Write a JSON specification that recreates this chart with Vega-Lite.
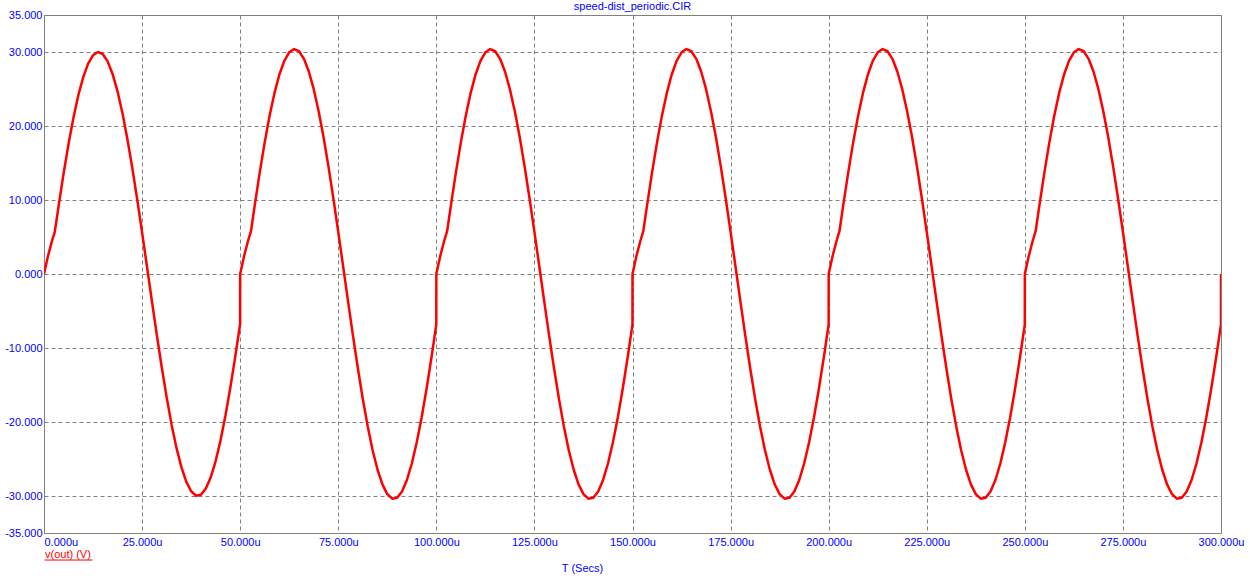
{
  "$schema": "https://vega.github.io/schema/vega-lite/v6.json",
  "width": 1177,
  "height": 518,
  "autosize": {"type": "none"},
  "padding": {"left": 44, "top": 15, "right": 29, "bottom": 47},
  "background": "white",
  "title": {"text": "speed-dist_periodic.CIR", "font": "Liberation Sans", "fontSize": 11, "fontWeight": "normal", "color": "#0000ff", "anchor": "middle", "offset": 3, "baseline": "bottom", "frame": "group", "dy": 17},
  "config": {"view": {"stroke": "#808080", "strokeWidth": 1}},
  "data": {"values": [
    {"t":0,"v":0},{"t":1,"v":2.4},{"t":2,"v":4.4},{"t":2.75,"v":5.7},{"t":3.75,"v":9.29},{"t":5,"v":13.59},{"t":6.25,"v":17.56},{"t":7.5,"v":21.11},{"t":8.75,"v":24.15},{"t":10,"v":26.61},{"t":11.25,"v":28.43},{"t":12.5,"v":29.57},{"t":13.75,"v":30.0},{"t":15,"v":29.7},{"t":16.25,"v":28.7},{"t":17.5,"v":27.0},{"t":18.75,"v":24.65},{"t":20,"v":21.71},{"t":21.25,"v":18.25},{"t":22.5,"v":14.35},{"t":23.75,"v":10.11},{"t":25,"v":5.62},{"t":26.25,"v":1.0},{"t":27.5,"v":-3.65},{"t":28.75,"v":-8.21},{"t":30,"v":-12.57},{"t":31.25,"v":-16.63},{"t":32.5,"v":-20.29},{"t":33.75,"v":-23.47},{"t":35,"v":-26.07},{"t":36.25,"v":-28.05},{"t":37.5,"v":-29.36},{"t":38.75,"v":-29.96},{"t":40,"v":-29.84},{"t":41.25,"v":-29.0},{"t":42.5,"v":-27.47},{"t":43.75,"v":-25.28},{"t":45,"v":-22.48},{"t":46.25,"v":-19.13},{"t":47.5,"v":-15.33},{"t":48.75,"v":-11.16},{"t":49.99,"v":-6.76},
    {"t":50,"v":0},{"t":51,"v":2.43},{"t":52,"v":4.46},{"t":52.75,"v":5.78},{"t":53.75,"v":9.41},{"t":55,"v":13.77},{"t":56.25,"v":17.79},{"t":57.5,"v":21.39},{"t":58.75,"v":24.47},{"t":60,"v":26.96},{"t":61.25,"v":28.81},{"t":62.5,"v":29.96},{"t":63.75,"v":30.4},{"t":65,"v":30.1},{"t":66.25,"v":29.08},{"t":67.5,"v":27.36},{"t":68.75,"v":24.98},{"t":70,"v":22.0},{"t":71.25,"v":18.5},{"t":72.5,"v":14.54},{"t":73.75,"v":10.24},{"t":75,"v":5.69},{"t":76.25,"v":1.01},{"t":77.5,"v":-3.7},{"t":78.75,"v":-8.32},{"t":80,"v":-12.74},{"t":81.25,"v":-16.85},{"t":82.5,"v":-20.56},{"t":83.75,"v":-23.78},{"t":85,"v":-26.42},{"t":86.25,"v":-28.43},{"t":87.5,"v":-29.75},{"t":88.75,"v":-30.36},{"t":90,"v":-30.24},{"t":91.25,"v":-29.39},{"t":92.5,"v":-27.84},{"t":93.75,"v":-25.61},{"t":95,"v":-22.78},{"t":96.25,"v":-19.39},{"t":97.5,"v":-15.53},{"t":98.75,"v":-11.31},{"t":99.99,"v":-6.85},
    {"t":100,"v":0},{"t":101,"v":2.43},{"t":102,"v":4.46},{"t":102.75,"v":5.78},{"t":103.75,"v":9.41},{"t":105,"v":13.77},{"t":106.25,"v":17.79},{"t":107.5,"v":21.39},{"t":108.75,"v":24.47},{"t":110,"v":26.96},{"t":111.25,"v":28.81},{"t":112.5,"v":29.96},{"t":113.75,"v":30.4},{"t":115,"v":30.1},{"t":116.25,"v":29.08},{"t":117.5,"v":27.36},{"t":118.75,"v":24.98},{"t":120,"v":22.0},{"t":121.25,"v":18.5},{"t":122.5,"v":14.54},{"t":123.75,"v":10.24},{"t":125,"v":5.69},{"t":126.25,"v":1.01},{"t":127.5,"v":-3.7},{"t":128.75,"v":-8.32},{"t":130,"v":-12.74},{"t":131.25,"v":-16.85},{"t":132.5,"v":-20.56},{"t":133.75,"v":-23.78},{"t":135,"v":-26.42},{"t":136.25,"v":-28.43},{"t":137.5,"v":-29.75},{"t":138.75,"v":-30.36},{"t":140,"v":-30.24},{"t":141.25,"v":-29.39},{"t":142.5,"v":-27.84},{"t":143.75,"v":-25.61},{"t":145,"v":-22.78},{"t":146.25,"v":-19.39},{"t":147.5,"v":-15.53},{"t":148.75,"v":-11.31},{"t":149.99,"v":-6.85},
    {"t":150,"v":0},{"t":151,"v":2.43},{"t":152,"v":4.46},{"t":152.75,"v":5.78},{"t":153.75,"v":9.41},{"t":155,"v":13.77},{"t":156.25,"v":17.79},{"t":157.5,"v":21.39},{"t":158.75,"v":24.47},{"t":160,"v":26.96},{"t":161.25,"v":28.81},{"t":162.5,"v":29.96},{"t":163.75,"v":30.4},{"t":165,"v":30.1},{"t":166.25,"v":29.08},{"t":167.5,"v":27.36},{"t":168.75,"v":24.98},{"t":170,"v":22.0},{"t":171.25,"v":18.5},{"t":172.5,"v":14.54},{"t":173.75,"v":10.24},{"t":175,"v":5.69},{"t":176.25,"v":1.01},{"t":177.5,"v":-3.7},{"t":178.75,"v":-8.32},{"t":180,"v":-12.74},{"t":181.25,"v":-16.85},{"t":182.5,"v":-20.56},{"t":183.75,"v":-23.78},{"t":185,"v":-26.42},{"t":186.25,"v":-28.43},{"t":187.5,"v":-29.75},{"t":188.75,"v":-30.36},{"t":190,"v":-30.24},{"t":191.25,"v":-29.39},{"t":192.5,"v":-27.84},{"t":193.75,"v":-25.61},{"t":195,"v":-22.78},{"t":196.25,"v":-19.39},{"t":197.5,"v":-15.53},{"t":198.75,"v":-11.31},{"t":199.99,"v":-6.85},
    {"t":200,"v":0},{"t":201,"v":2.43},{"t":202,"v":4.46},{"t":202.75,"v":5.78},{"t":203.75,"v":9.41},{"t":205,"v":13.77},{"t":206.25,"v":17.79},{"t":207.5,"v":21.39},{"t":208.75,"v":24.47},{"t":210,"v":26.96},{"t":211.25,"v":28.81},{"t":212.5,"v":29.96},{"t":213.75,"v":30.4},{"t":215,"v":30.1},{"t":216.25,"v":29.08},{"t":217.5,"v":27.36},{"t":218.75,"v":24.98},{"t":220,"v":22.0},{"t":221.25,"v":18.5},{"t":222.5,"v":14.54},{"t":223.75,"v":10.24},{"t":225,"v":5.69},{"t":226.25,"v":1.01},{"t":227.5,"v":-3.7},{"t":228.75,"v":-8.32},{"t":230,"v":-12.74},{"t":231.25,"v":-16.85},{"t":232.5,"v":-20.56},{"t":233.75,"v":-23.78},{"t":235,"v":-26.42},{"t":236.25,"v":-28.43},{"t":237.5,"v":-29.75},{"t":238.75,"v":-30.36},{"t":240,"v":-30.24},{"t":241.25,"v":-29.39},{"t":242.5,"v":-27.84},{"t":243.75,"v":-25.61},{"t":245,"v":-22.78},{"t":246.25,"v":-19.39},{"t":247.5,"v":-15.53},{"t":248.75,"v":-11.31},{"t":249.99,"v":-6.85},
    {"t":250,"v":0},{"t":251,"v":2.43},{"t":252,"v":4.46},{"t":252.75,"v":5.78},{"t":253.75,"v":9.41},{"t":255,"v":13.77},{"t":256.25,"v":17.79},{"t":257.5,"v":21.39},{"t":258.75,"v":24.47},{"t":260,"v":26.96},{"t":261.25,"v":28.81},{"t":262.5,"v":29.96},{"t":263.75,"v":30.4},{"t":265,"v":30.1},{"t":266.25,"v":29.08},{"t":267.5,"v":27.36},{"t":268.75,"v":24.98},{"t":270,"v":22.0},{"t":271.25,"v":18.5},{"t":272.5,"v":14.54},{"t":273.75,"v":10.24},{"t":275,"v":5.69},{"t":276.25,"v":1.01},{"t":277.5,"v":-3.7},{"t":278.75,"v":-8.32},{"t":280,"v":-12.74},{"t":281.25,"v":-16.85},{"t":282.5,"v":-20.56},{"t":283.75,"v":-23.78},{"t":285,"v":-26.42},{"t":286.25,"v":-28.43},{"t":287.5,"v":-29.75},{"t":288.75,"v":-30.36},{"t":290,"v":-30.24},{"t":291.25,"v":-29.39},{"t":292.5,"v":-27.84},{"t":293.75,"v":-25.61},{"t":295,"v":-22.78},{"t":296.25,"v":-19.39},{"t":297.5,"v":-15.53},{"t":298.75,"v":-11.31},{"t":299.99,"v":-6.85},
    {"t":300,"v":0}
  ]},
  "mark": {"type": "line", "strokeWidth": 2.5, "clip": true, "strokeJoin": "round"},
  "encoding": {
    "x": {
      "field": "t", "type": "quantitative",
      "scale": {"domain": [0, 300], "nice": false, "zero": false},
      "axis": {
        "values": [0, 25, 50, 75, 100, 125, 150, 175, 200, 225, 250, 275, 300],
        "labelExpr": "format(datum.value, '.3f') + 'u'",
        "labelFont": "Liberation Sans", "labelFontSize": 11, "labelColor": "#0000ff",
        "labelAlign": {"condition": {"test": "datum.value == 0", "value": "left"}, "value": "center"},
        "labelFlush": false, "labelOverlap": false, "labelBound": false,
        "labelPadding": 3, "labelBaseline": "top",
        "ticks": false, "domain": false,
        "grid": true, "gridColor": "#808080", "gridDash": [4, 3], "gridOpacity": 1, "gridWidth": 1,
        "title": "T (Secs)", "titleFont": "Liberation Sans", "titleFontSize": 11, "titleFontWeight": "normal", "titleColor": "#0000ff",
        "titleX": 538, "titleY": 35, "titleAlign": "center", "titleBaseline": "middle", "titleAnchor": "start"
      }
    },
    "y": {
      "field": "v", "type": "quantitative",
      "scale": {"domain": [-35, 35], "nice": false, "zero": false},
      "axis": {
        "values": [-35, -30, -20, -10, 0, 10, 20, 30, 35],
        "labelExpr": "(datum.value < 0 ? '-' : '') + format(abs(datum.value), '.3f')",
        "labelFont": "Liberation Sans", "labelFontSize": 11, "labelColor": "#0000ff",
        "labelPadding": 2, "labelBaseline": "middle", "labelOverlap": false, "labelBound": false, "labelFlush": false,
        "ticks": false, "domain": false,
        "grid": true, "gridColor": "#808080", "gridDash": [4, 3], "gridOpacity": 1, "gridWidth": 1,
        "title": null
      }
    },
    "color": {
      "datum": "v(out) (V)", "type": "nominal",
      "scale": {"range": ["#ff0000"]},
      "legend": {
        "orient": "none", "legendX": 0, "legendY": 515, "title": null, "padding": 0,
        "symbolType": "M-1,0.23H1", "symbolSize": 2304, "symbolStrokeWidth": 1, "symbolStrokeColor": "#ff0000", "symbolFillColor": "transparent",
        "labelOffset": -48, "labelFont": "Liberation Sans", "labelFontSize": 11, "labelColor": "#ff0000", "labelLimit": 200
      }
    }
  }
}
